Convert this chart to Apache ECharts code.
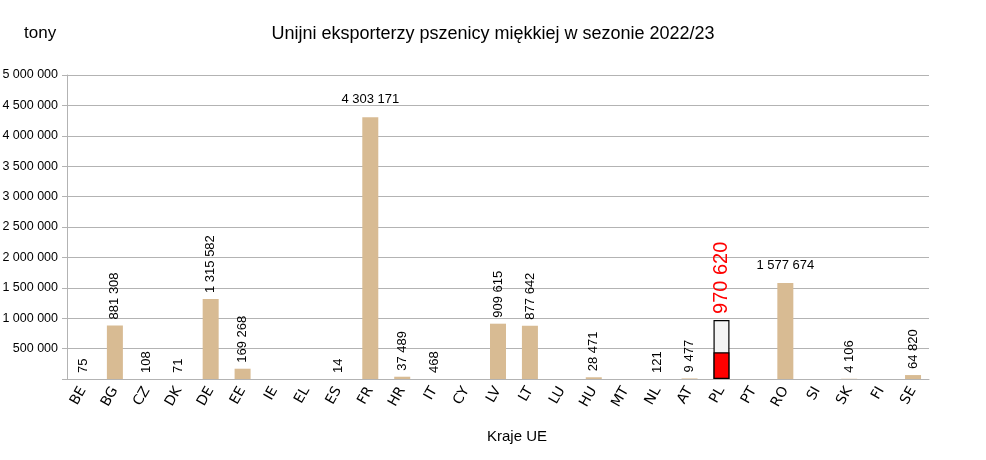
<!DOCTYPE html>
<html>
<head>
<meta charset="utf-8">
<script src="https://cdn.jsdelivr.net/npm/echarts@6/dist/echarts.min.js"></script>
<style>
  html, body { margin: 0; padding: 0; background: #fff; }
  #chart { width: 986px; height: 460px; }
</style>
</head>
<body>
<div id="chart"></div>
<script>
// kraje UE
const countries = ['BE', 'BG', 'CZ', 'DK', 'DE', 'EE', 'IE', 'EL', 'ES', 'FR', 'HR', 'IT', 'CY', 'LV',
    'LT', 'LU', 'HU', 'MT', 'NL', 'AT', 'PL', 'PT', 'RO', 'SI', 'SK', 'FI', 'SE'];
// eksport pszenicy miękkiej, tony (brak = null)
const exportTons = [75, 881308, 108, 71, 1315582, 169268, null, null, 14, 4303171, 37489, 468, null, 909615,
    877642, null, 28471, null, 121, 9477, 970620, null, 1577674, null, 4106, null, 64820];
// czerwone wypełnienie słupka PL
const plFill = [null, null, null, null, null, null, null, null, null, null, null, null, null, null,
    null, null, null, null, null, null, 440000, null, null, null, null, null, null];

const yMax = 5000000;
const yStep = 500000;

function fmt(v) { //spacja jako separator tysięcy
    return String(v).replace(/\B(?=(\d{3})+(?!\d))/g, ' ');
}

let chart = echarts.init(document.getElementById('chart'));

let mainData = exportTons.map(function (v, i) {
    let item = { value: v };
    if (countries[i] === 'PL') {
        item.itemStyle = { color: '#f4f4f4', borderColor: '#000', borderWidth: 1.2 };
        item.label = { color: '#ff0000', fontSize: 20, distance: 6 };
    }
    if (countries[i] === 'FR' || countries[i] === 'RO') { //poziome etykiety
        item.label = { rotate: 0, align: 'center', verticalAlign: 'bottom', distance: 11 };
    }
    return item;
});

let option = {
    animation: false,
    textStyle: { fontFamily: 'Liberation Sans' },
    title: [{
        text: 'Unijni eksporterzy pszenicy miękkiej w sezonie 2022/23',
        left: 'center',
        top: 20,
        textStyle: { fontSize: 18, fontWeight: 'normal', color: '#000' }
    }, {
        text: 'tony',
        left: 19,
        top: 20,
        textStyle: { fontSize: 17, fontWeight: 'normal', color: '#000' }
    }],
    grid: { left: 67, right: 57, top: 75, bottom: 81, outerBoundsMode: 'none' },
    xAxis: {
        type: 'category',
        data: countries,
        name: 'Kraje UE',
        nameLocation: 'middle',
        nameGap: 50,
        nameTextStyle: { fontSize: 15, color: '#000', padding: [0, 0, 0, 38] },
        axisLine: { lineStyle: { color: '#b3b3b3' } },
        axisTick: { length: 5, lineStyle: { color: '#b3b3b3' } },
        axisLabel: { rotate: 60, fontSize: 14, color: '#000', margin: 9, fontFamily: 'DejaVu Sans' }
    },
    yAxis: {
        type: 'value',
        min: 0,
        max: yMax,
        interval: yStep,
        axisLine: { show: true, lineStyle: { color: '#b3b3b3' } },
        axisTick: { show: true, length: 5, lineStyle: { color: '#b3b3b3' } },
        splitLine: { lineStyle: { color: '#b3b3b3' } },
        axisLabel: {
            fontSize: 12.5, color: '#000', margin: 9,
            formatter: function (v) { return v === 0 ? '' : fmt(v); }
        }
    },
    series: [{
        type: 'bar',
        data: mainData,
        barWidth: 16,
        barGap: '-100%',
        itemStyle: { color: '#d8bb93' },
        label: {
            show: true,
            position: 'top',
            rotate: 90,
            align: 'left',
            verticalAlign: 'middle',
            distance: 6,
            fontSize: 13,
            color: '#000',
            formatter: function (p) { return fmt(p.value); }
        },
        z: 2
    }, {
        type: 'bar',
        data: plFill,
        barWidth: 16,
        barGap: '-100%',
        itemStyle: { color: '#ff0000', borderColor: '#000', borderWidth: 1.2 },
        z: 3
    }]
};

chart.setOption(option);
</script>
</body>
</html>
